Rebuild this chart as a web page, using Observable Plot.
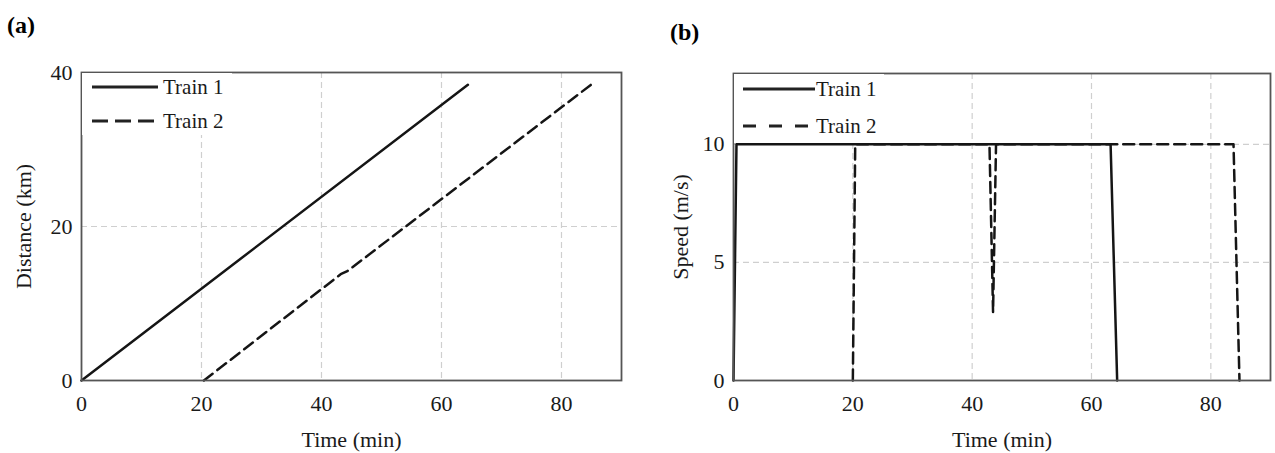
<!DOCTYPE html>
<html><head><meta charset="utf-8">
<script src="https://cdn.jsdelivr.net/npm/d3@7"></script>
<script src="https://cdn.jsdelivr.net/npm/@observablehq/plot@0.6"></script>
<style>
body{margin:0;background:#fff;}
#wrap{position:relative;width:1275px;height:453px;overflow:hidden;background:#fff;font-family:"Liberation Serif",serif;}
#wrap svg text{font-family:"Liberation Serif",serif;}
.panel{position:absolute;top:0;}
#overlay{position:absolute;left:0;top:0;pointer-events:none;}
</style>
</head><body>
<div id="wrap"><div id="pa" class="panel" style="left:0"></div><div id="pb" class="panel" style="left:640px"></div></div>
<script>
// ---- data ----
const timeTicks = [0, 20, 40, 60, 80];
const distTicks = [0, 20, 40];
const speedTicks = [0, 5, 10];
const seriesNames = ["Train 1", "Train 2"];
const panelTags = ["(a)", "(b)"];

const distTime1 = [0, 64.4];
const dist1 = [0, 38.4];
const distTime2 = [20.4, 43.2, 44.3, 84.9];
const dist2 = [0, 13.8, 14.2, 38.4];

const speedTime1 = [0, 0.5, 63.2, 64.3];
const speed1 = [0, 10, 10, 0];
const speedTime2 = [20.0, 20.4, 42.9, 43.5, 44.0, 83.8, 84.8];
const speed2 = [0, 10, 10, 2.9, 10, 10, 0];

const rows = (ts, vs) => ts.map((t, i) => ({t, v: vs[i]}));

function panel({w, ml, mr, mt, mb, yDomain, yTicks, yGrid, yLabel, yLabelOffset, d1, d2}) {
  return Plot.plot({
    width: w, height: 453,
    marginLeft: ml, marginRight: mr, marginTop: mt, marginBottom: mb,
    style: {fontFamily: "Liberation Serif", fontSize: "21px", color: "#1a1a1a", background: "transparent", overflow: "visible"},
    x: {domain: [0, 90]},
    y: {domain: yDomain},
    marks: [
      Plot.gridX(timeTicks.slice(1), {stroke: "#cfcfcf", strokeOpacity: 1, strokeDasharray: "6,4", strokeWidth: 1.2}),
      Plot.gridY(yGrid, {stroke: "#cfcfcf", strokeOpacity: 1, strokeDasharray: "6,4", strokeWidth: 1.2}),
      Plot.line(d2, {x: "t", y: "v", stroke: "#151515", strokeWidth: 2.5, strokeDasharray: "11,6"}),
      Plot.line(d1, {x: "t", y: "v", stroke: "#151515", strokeWidth: 2.5}),
      Plot.frame({stroke: "#555", strokeWidth: 1.8}),
      Plot.axisX(timeTicks, {tickSize: 0, tickPadding: 15, fontSize: 22, label: "Time (min)", labelAnchor: "center", labelOffset: 66, labelArrow: "none"}),
      Plot.axisY(yTicks, {tickSize: 0, tickPadding: 9, fontSize: 22, label: yLabel, labelAnchor: "center", labelOffset: yLabelOffset, labelArrow: "none"})
    ]
  });
}

document.getElementById("pa").append(panel({
  w: 640, ml: 81, mr: 19, mt: 72, mb: 73,
  yDomain: [0, 40], yTicks: distTicks, yGrid: [20], yLabel: "Distance (km)", yLabelOffset: 66,
  d1: rows(distTime1, dist1), d2: rows(distTime2, dist2)
}));
document.getElementById("pb").append(panel({
  w: 635, ml: 93, mr: 5, mt: 73, mb: 73,
  yDomain: [0, 13], yTicks: speedTicks, yGrid: [5, 10], yLabel: "Speed (m/s)", yLabelOffset: 61,
  d1: rows(speedTime1, speed1), d2: rows(speedTime2, speed2)
}));

// ---- overlay: panel tags and legends ----
const svg = d3.select("#wrap").append("svg").attr("id", "overlay")
  .attr("width", 1275).attr("height", 453)
  .style("font-family", "Liberation Serif");

svg.append("text").attr("x", 7).attr("y", 33).attr("font-size", 24).attr("font-weight", "bold").text(panelTags[0]);
svg.append("text").attr("x", 670).attr("y", 40).attr("font-size", 24).attr("font-weight", "bold").text(panelTags[1]);

const legends = [
  {box: [82, 73, 150, 62], x0: 92, x1: 158, tx: 163, ys: [87, 121], dash: "16,7"},
  {box: [734, 74, 150, 69], x0: 743, x1: 815, tx: 816, ys: [89, 126], dash: "13,13"}
];
legends.forEach(L => {
  svg.append("rect").attr("x", L.box[0]).attr("y", L.box[1]).attr("width", L.box[2]).attr("height", L.box[3]).attr("fill", "#fff");
  seriesNames.forEach((name, i) => {
    svg.append("line").attr("x1", L.x0).attr("x2", L.x1).attr("y1", L.ys[i]).attr("y2", L.ys[i])
      .attr("stroke", "#222").attr("stroke-width", 3)
      .attr("stroke-dasharray", i === 1 ? L.dash : null);
    svg.append("text").attr("x", L.tx).attr("y", L.ys[i]).attr("dy", "0.35em")
      .attr("font-size", 21).attr("fill", "#1a1a1a").text(name);
  });
});
</script>
</body></html>
